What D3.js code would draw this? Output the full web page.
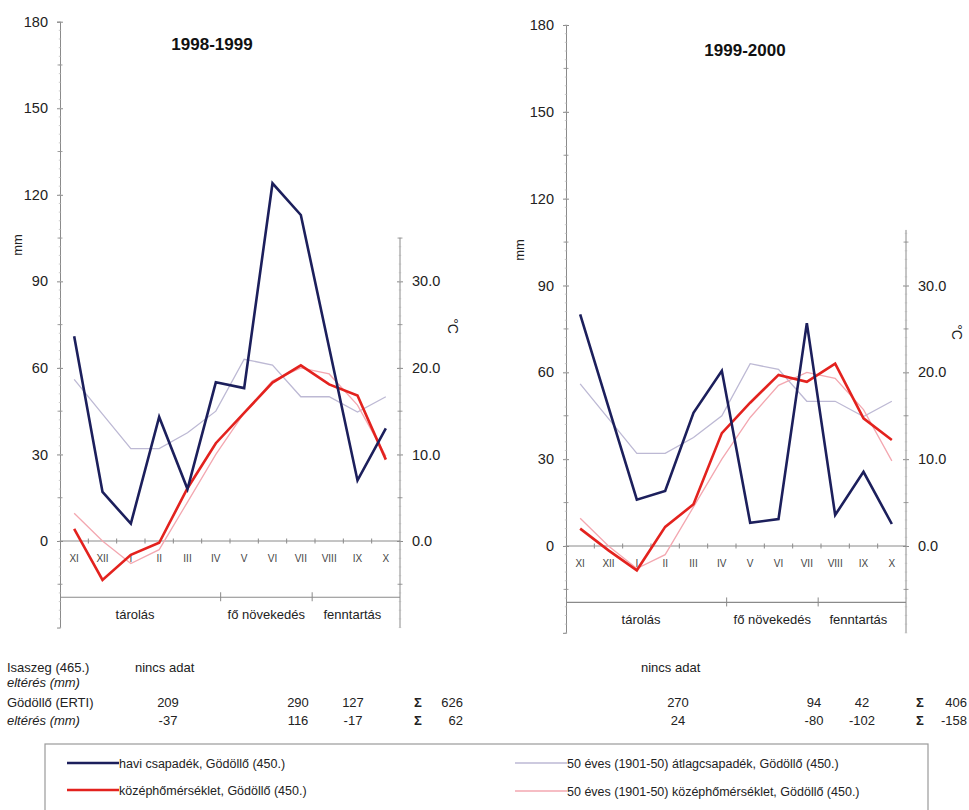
<!DOCTYPE html>
<html>
<head>
<meta charset="utf-8">
<script src="https://cdn.jsdelivr.net/npm/d3@7"></script>
<style>
  html, body { margin: 0; padding: 0; background: #fff; }
  svg { display: block; font-family: "Liberation Sans", Arial, sans-serif; }
</style>
</head>
<body>
<svg id="chart" width="969" height="810"></svg>
<script>
// ---------------- data ----------------
const months = ["XI", "XII", "I", "II", "III", "IV", "V", "VI", "VII", "VIII", "IX", "X"];
const titles = ["1998-1999", "1999-2000"];

// monthly precipitation (mm), Gödöllő (450.)
const precip9899 = [71, 17, 6, 43, 18, 55, 53, 124, 113, 67, 21, 39];
const precip9900 = [80, 48, 16, 19, 46, 60.5, 8, 9.3, 77, 10.7, 25.6, 7.6];
// monthly mean temperature (°C), Gödöllő (450.)
const temp9899 = [1.4, -4.5, -1.6, -0.2, 6.1, 11.3, 14.8, 18.3, 20.3, 18.1, 16.8, 9.4];
const temp9900 = [2.0, -0.5, -2.8, 2.2, 4.8, 13.0, 16.5, 19.7, 18.9, 21.0, 14.7, 12.2];
// 50-year (1901-50) averages
const avgPrecip = [56, 44, 32, 32, 37.5, 45, 63, 61, 50, 50, 44.7, 50];
const avgTemp = [3.2, 0.0, -2.6, -1.0, 4.5, 10.0, 14.8, 18.5, 20.0, 19.3, 15.7, 9.8];

const mmTicks = [0, 30, 60, 90, 120, 150, 180];
const tempTicks = [0, 10, 20, 30];

const phases = ["tárolás", "fő növekedés", "fenntartás"];

// table rows
const rowLabels = ["Isaszeg (465.)", "eltérés (mm)", "Gödöllő (ERTI)", "eltérés (mm)"];
const noData = "nincs adat";
const godolloSum9899 = ["209", "290", "127", "626"];
const deviation9899 = ["-37", "116", "-17", "62"];
const godolloSum9900 = ["270", "94", "42", "406"];
const deviation9900 = ["24", "-80", "-102", "-158"];

const legendItems = [
  "havi csapadék, Gödöllő (450.)",
  "középhőmérséklet, Gödöllő (450.)",
  "50 éves (1901-50) átlagcsapadék, Gödöllő (450.)",
  "50 éves (1901-50) középhőmérséklet, Gödöllő (450.)"
];

// ---------------- styles ----------------
const C_PRECIP = "#1c1f5c";
const C_TEMP = "#e3221e";
const C_AVGP = "#bdb9d4";
const C_AVGT = "#f3a7b0";
const C_AXIS = "#8a8a8a";
const C_TEXT = "#222";

const svg = d3.select("#chart");

const charts = [
  { x0: 60, x1: 400, zero: 541, top: 21.7, tMax: 35, precip: precip9899, temp: temp9899, title: titles[0], titleX: 212, titleY: 50, mmX: 22, mmY: 245, cX: 453, cY: 326 },
  { x0: 566, x1: 906, zero: 546, top: 25, tMax: 36.4, precip: precip9900, temp: temp9900, title: titles[1], titleX: 745, titleY: 56, mmX: 524, mmY: 250, cX: 957, cY: 332 }
];

charts.forEach(c => {
  const g = svg.append("g");
  const k = (c.zero - c.top) / 180;
  const bottom = c.zero + 30 * k;
  const y = d3.scaleLinear().domain([-30, 180]).range([bottom, c.top]);
  const yT = d3.scaleLinear().domain([-10, 60]).range([bottom, c.top]);
  const xb = d3.scaleBand().domain(months).range([c.x0, c.x1]);
  const xc = m => xb(m) + xb.bandwidth() / 2;
  const xu = d3.scaleLinear().domain([0, 12]).range([c.x0, c.x1]);

  // left axis (mm)
  const leftAxis = d3.axisLeft(y).tickValues(mmTicks).tickSize(3).tickPadding(9).tickFormat(d3.format("d"));
  const la = g.append("g").attr("transform", `translate(${c.x0},0)`).call(leftAxis);
  la.select(".domain").attr("stroke", C_AXIS);
  la.selectAll(".tick line").attr("stroke", C_AXIS).attr("x2", 3).attr("x1", -3);
  la.selectAll(".tick text").attr("fill", C_TEXT).attr("font-size", 14.5);
  // minor ticks
  g.append("g").selectAll("line").data(d3.range(-30, 181, 3)).join("line")
    .attr("x1", c.x0 - 1.2).attr("x2", c.x0 + 1.2)
    .attr("y1", d => y(d)).attr("y2", d => y(d))
    .attr("stroke", "#b5b5b5").attr("stroke-width", 0.7);
  g.append("g").selectAll("line").data(d3.range(-15, 181, 30)).join("line")
    .attr("x1", c.x0 - 2.5).attr("x2", c.x0 + 2.5)
    .attr("y1", d => y(d)).attr("y2", d => y(d))
    .attr("stroke", C_AXIS).attr("stroke-width", 0.8);

  // right axis (°C)
  const rightAxis = d3.axisRight(yT).tickValues(tempTicks).tickSize(3).tickPadding(9).tickFormat(d3.format(".1f"));
  const ra = g.append("g").attr("transform", `translate(${c.x1},0)`).call(rightAxis);
  ra.select(".domain").attr("d", `M0,${yT(-10)}V${yT(c.tMax)}`).attr("stroke", C_AXIS);
  ra.selectAll(".tick line").attr("stroke", C_AXIS).attr("x1", -3).attr("x2", 3);
  ra.selectAll(".tick text").attr("fill", C_TEXT).attr("font-size", 14.5);
  g.append("g").selectAll("line").data(d3.range(-10, Math.floor(c.tMax) + 1, 1)).join("line")
    .attr("x1", c.x1 - 1.2).attr("x2", c.x1 + 1.2)
    .attr("y1", d => yT(d)).attr("y2", d => yT(d))
    .attr("stroke", "#b5b5b5").attr("stroke-width", 0.7);
  g.append("g").selectAll("line").data([-5, 5, 15, 25, 35].filter(v => v <= c.tMax)).join("line")
    .attr("x1", c.x1 - 2.5).attr("x2", c.x1 + 2.5)
    .attr("y1", d => yT(d)).attr("y2", d => yT(d))
    .attr("stroke", C_AXIS).attr("stroke-width", 0.8);

  // zero line with month ticks
  g.append("line").attr("x1", c.x0).attr("x2", c.x1).attr("y1", y(0)).attr("y2", y(0))
    .attr("stroke", C_AXIS).attr("stroke-width", 1);
  g.append("g").selectAll("line").data(d3.range(1, 12)).join("line")
    .attr("x1", d => xu(d)).attr("x2", d => xu(d))
    .attr("y1", y(0) - 2.5).attr("y2", y(0) + 2.5)
    .attr("stroke", C_AXIS).attr("stroke-width", 1);
  // month labels
  g.append("g").selectAll("text").data(months).join("text")
    .attr("x", d => xc(d)).attr("y", y(0) + 21)
    .attr("text-anchor", "middle").attr("font-size", 10).attr("fill", "#444")
    .text(d => d);

  // phase line
  const phaseY = y(-19.5);
  g.append("line").attr("x1", c.x0).attr("x2", c.x1).attr("y1", phaseY).attr("y2", phaseY)
    .attr("stroke", C_AXIS).attr("stroke-width", 1.2);
  g.append("g").selectAll("line").data([5.67, 8.9]).join("line")
    .attr("x1", d => xu(d)).attr("x2", d => xu(d))
    .attr("y1", phaseY - 5).attr("y2", phaseY + 4)
    .attr("stroke", C_AXIS).attr("stroke-width", 1);
  g.append("g").selectAll("text").data(phases).join("text")
    .attr("x", (d, i) => xu([2.65, 7.28, 10.32][i])).attr("y", phaseY + 22)
    .attr("text-anchor", "middle").attr("font-size", 13).attr("fill", C_TEXT)
    .text(d => d);

  // lines
  const lineMM = d3.line().x((d, i) => xc(months[i])).y(d => y(d));
  const lineT = d3.line().x((d, i) => xc(months[i])).y(d => yT(d));
  g.append("path").datum(avgPrecip).attr("d", lineMM).attr("fill", "none")
    .attr("stroke", C_AVGP).attr("stroke-width", 1.3);
  g.append("path").datum(avgTemp).attr("d", lineT).attr("fill", "none")
    .attr("stroke", C_AVGT).attr("stroke-width", 1.3);
  g.append("path").datum(c.temp).attr("d", lineT).attr("fill", "none")
    .attr("stroke", C_TEMP).attr("stroke-width", 2.6).attr("stroke-linejoin", "miter");
  g.append("path").datum(c.precip).attr("d", lineMM).attr("fill", "none")
    .attr("stroke", C_PRECIP).attr("stroke-width", 2.6).attr("stroke-linejoin", "miter");

  // title and axis labels
  g.append("text").attr("x", c.titleX).attr("y", c.titleY).attr("text-anchor", "middle")
    .attr("font-size", 17).attr("font-weight", "bold").attr("fill", "#111").text(c.title);
  g.append("text").attr("transform", `translate(${c.mmX},${c.mmY}) rotate(-90)`)
    .attr("text-anchor", "middle").attr("font-size", 13).attr("fill", C_TEXT).text("mm");
  g.append("text").attr("transform", `translate(${c.cX - 5},${c.cY}) rotate(90)`)
    .attr("text-anchor", "middle").attr("font-size", 14).attr("fill", C_TEXT).text("°C");
});

// ---------------- table ----------------
const tbl = svg.append("g").attr("font-size", 13).attr("fill", C_TEXT);
const rowY = [672, 687, 707, 725];
rowLabels.forEach((t, i) => {
  const txt = tbl.append("text").attr("x", 7).attr("y", rowY[i]);
  if (i % 2 === 1) {
    txt.attr("font-style", "italic").text(t);
  } else {
    txt.text(t);
  }
});
tbl.append("text").attr("x", 135).attr("y", rowY[0]).text(noData);
tbl.append("text").attr("x", 641).attr("y", rowY[0]).text(noData);

const colsA = [168, 298, 353];
const colsB = [678, 814, 862];
[[godolloSum9899, deviation9899, colsA, 418, 463], [godolloSum9900, deviation9900, colsB, 920, 967]].forEach(([sumRow, devRow, cols, sx, rx]) => {
  [sumRow, devRow].forEach((row, r) => {
    const yy = rowY[2 + r];
    row.slice(0, 3).forEach((v, j) => {
      tbl.append("text").attr("x", cols[j]).attr("y", yy).attr("text-anchor", "middle").text(v);
    });
    tbl.append("text").attr("x", sx).attr("y", yy).attr("text-anchor", "middle").attr("font-weight", "bold").text("Σ");
    tbl.append("text").attr("x", rx).attr("y", yy).attr("text-anchor", "end").text(row[3]);
  });
});

// ---------------- legend ----------------
const lg = svg.append("g");
lg.append("rect").attr("x", 45).attr("y", 744).attr("width", 883).attr("height", 70)
  .attr("fill", "none").attr("stroke", "#9a9a9a").attr("stroke-width", 1.2);
const legendPos = [
  { x: 67, y: 763, c: C_PRECIP, w: 2.6 },
  { x: 67, y: 790, c: C_TEMP, w: 2.6 },
  { x: 515, y: 763, c: C_AVGP, w: 1.3 },
  { x: 515, y: 791, c: C_AVGT, w: 1.3 }
];
legendItems.forEach((t, i) => {
  const p = legendPos[i];
  lg.append("line").attr("x1", p.x).attr("x2", p.x + 52).attr("y1", p.y).attr("y2", p.y)
    .attr("stroke", p.c).attr("stroke-width", p.w);
  lg.append("text").attr("x", p.x + 52).attr("y", p.y + 4.5).attr("font-size", 12.5)
    .attr("fill", C_TEXT).text(t);
});
</script>
</body>
</html>
